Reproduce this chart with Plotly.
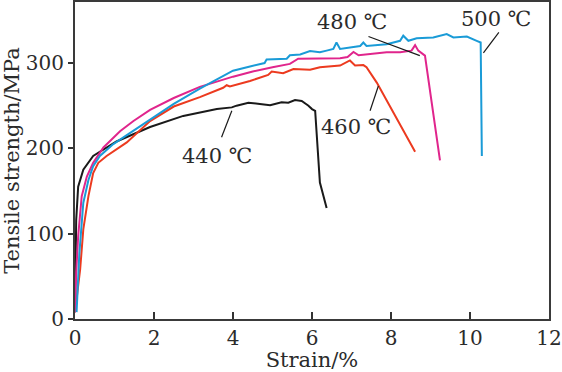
import plotly.graph_objects as go

# ---- data ----
x_440 = [0.0, 0.02, 0.03, 0.08, 0.21, 0.46, 0.63, 1.05, 1.9, 2.74, 3.59, 3.97, 4.09, 4.39, 4.68, 4.94,
         5.23, 5.4, 5.57, 5.74, 5.91, 6.0, 6.08, 6.15, 6.2, 6.37]
y_440 = [8, 60, 116, 155, 175, 191, 196, 208, 225, 238, 246, 248, 250, 253.5, 252, 250.5,
         254, 253.5, 256.5, 255.5, 250, 246, 244, 200, 160, 130]

x_460 = [0.0, 0.13, 0.21, 0.34, 0.46, 0.59, 0.8, 1.31, 1.9, 2.5, 3.16, 3.75, 3.84, 3.92, 4.43, 4.89,
         4.98, 5.27, 5.53, 5.95, 6.2, 6.71, 6.96, 7.09, 7.3, 7.38, 7.64, 8.61]
y_460 = [8, 58, 105, 144, 171, 183, 191, 207, 232, 249, 260, 271, 274, 272.5, 279, 286,
         290, 288, 293, 292, 295, 297, 303, 297, 297.6, 295, 277, 196]

x_480 = [0.0, 0.03, 0.08, 0.17, 0.3, 0.46, 0.72, 1.14, 1.48, 1.9, 2.5, 3.16, 4.0, 4.5, 5.0, 5.44,
         5.65, 6.71, 6.9, 7.05, 7.18, 7.55, 7.89, 8.23, 8.52, 8.61, 8.69, 8.86, 9.24]
y_480 = [8, 55, 97, 144, 167, 183, 201, 220, 232, 245, 259, 272, 284, 290, 295, 299,
         305, 305.5, 307, 313, 309, 310.6, 312.6, 312.6, 314.5, 321, 314.5, 308.6, 186]

x_500 = [0.04, 0.11, 0.21, 0.34, 0.46, 0.63, 0.97, 1.73, 2.5, 3.16, 4.0, 4.43, 4.8, 4.85, 5.36, 5.44,
         5.7, 5.95, 6.2, 6.37, 6.54, 6.62, 6.71, 7.22, 7.3, 7.38, 7.89, 8.23, 8.31, 8.44, 8.65, 9.07,
         9.41, 9.58, 9.92, 10.17, 10.27, 10.3]
y_500 = [8, 77, 136, 163, 179, 191, 205, 228, 252, 270, 291, 296, 300, 304, 305, 309,
         310, 314, 312.5, 314.5, 316.5, 324, 316.5, 320, 324, 320, 322, 326, 332, 326, 329, 330,
         334, 330, 331, 326, 324, 191]

labels = ["440 ℃", "460 ℃", "480 ℃", "500 ℃"]
label_x = [3.6, 7.11, 7.0, 10.66]
label_y = [191, 225, 348, 352]
leader_x0 = [3.71, 7.47, 7.43, 10.34]
leader_y0 = [213, 244, 331, 312]
leader_x1 = [3.97, 7.68, 8.73, 10.73]
leader_y1 = [244, 273, 308.6, 336]

x_ticks = [0, 2, 4, 6, 8, 10, 12]
y_ticks = [0, 100, 200, 300]

series = [
    (x_440, y_440, "#1a1a1a"),
    (x_460, y_460, "#ec3a1f"),
    (x_480, y_480, "#e0258c"),
    (x_500, y_500, "#1a9bd7"),
]

FONT = "DejaVu Serif"
TXT = "#2b2b2b"

fig = go.Figure()
for xs, ys, c in series:
    fig.add_trace(go.Scatter(x=xs, y=ys, mode="lines",
                             line=dict(color=c, width=2), showlegend=False, hoverinfo="skip"))

for i, t in enumerate(labels):
    fig.add_annotation(x=label_x[i], y=label_y[i], text=t, showarrow=False,
                       font=dict(family=FONT, size=21, color=TXT),
                       xanchor="center", yanchor="middle")
    fig.add_shape(type="line", x0=leader_x0[i], y0=leader_y0[i], x1=leader_x1[i], y1=leader_y1[i],
                  line=dict(color="#1a1a1a", width=1.2))

fig.update_layout(
    width=562, height=372,
    margin=dict(l=75, r=13, t=2, b=53, autoexpand=False),
    paper_bgcolor="white", plot_bgcolor="white",
    font=dict(family=FONT, size=20, color=TXT),
    xaxis=dict(range=[0, 12], tickvals=x_ticks, ticks="inside", ticklen=7, tickwidth=1.5,
               tickcolor="#333", showline=True, linecolor="#3a3a3a", linewidth=2, mirror=True,
               showgrid=False, zeroline=False, automargin=False,
               title=dict(text="Strain/%", font=dict(family=FONT, size=21, color=TXT), standoff=0)),
    yaxis=dict(range=[0, 371.5], tickvals=y_ticks, ticks="outside", ticklen=5, tickwidth=1.5,
               tickcolor="#333", showline=True, linecolor="#3a3a3a", linewidth=2, mirror=True,
               showgrid=False, zeroline=False, automargin=False,
               title=dict(text="Tensile strength/MPa", font=dict(family=FONT, size=21, color=TXT),
                          standoff=4)),
)

fig.write_html("out.html", config={"displayModeBar": False},
               post_script="document.body.style.margin='0';document.body.style.overflow='hidden';")
